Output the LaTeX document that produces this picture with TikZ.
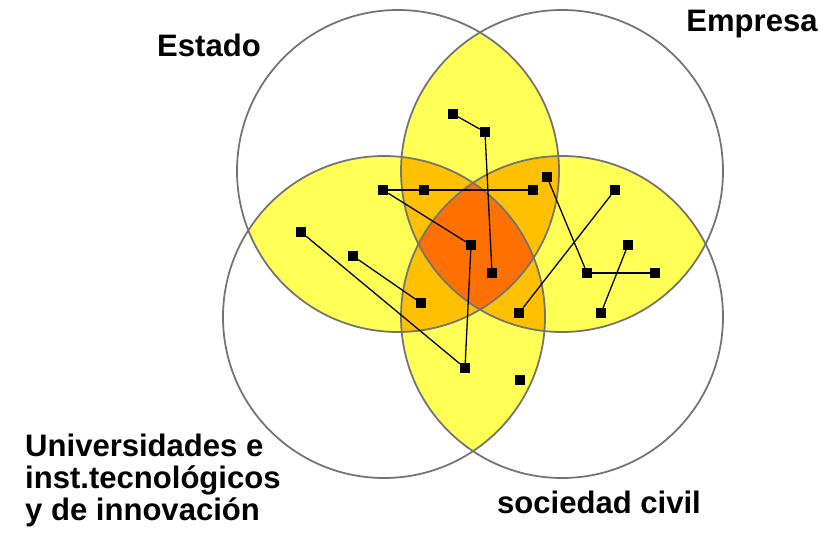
\documentclass[tikz,border=0pt]{standalone}
\usepackage{fontspec}
\setmainfont{Liberation Sans}

\definecolor{pairyellow}{RGB}{255,255,85}
\definecolor{tripleorange}{RGB}{255,192,0}
\definecolor{quadorange}{RGB}{255,112,0}
\definecolor{ringgray}{RGB}{115,115,115}

\begin{document}
\begin{tikzpicture}
  [x=0.03cm,y=-0.03cm,
   ring/.style={draw=ringgray,line width=1.5pt},
   hub/.style={rectangle,fill=black,minimum size=0.3cm,inner sep=0pt},
   link/.style={line width=1.1pt},
   sector/.style={font=\bfseries\fontsize{26.5}{27.3}\selectfont,inner sep=0pt}]
  \useasboundingbox (0,0) rectangle (821,538);

  \coordinate (estado)  at (398,171);
  \coordinate (empresa) at (562,171);
  \coordinate (univ)    at (384,317);
  \coordinate (civil)   at (562,317);

  % two sets
  \foreach \a/\b in {estado/empresa, estado/univ, empresa/civil, univ/civil, estado/civil, empresa/univ}
  {
    \begin{scope}
      \clip (\a) circle [radius=161];
      \fill [pairyellow] (\b) circle [radius=161];
    \end{scope}
  }
  % three sets
  \foreach \a/\b/\c in {estado/empresa/univ, estado/empresa/civil, estado/univ/civil, empresa/univ/civil}
  {
    \begin{scope}
      \clip (\a) circle [radius=161];
      \clip (\b) circle [radius=161];
      \fill [tripleorange] (\c) circle [radius=161];
    \end{scope}
  }
  % all four
  \begin{scope}
    \clip (estado) circle [radius=161];
    \clip (empresa) circle [radius=161];
    \clip (univ) circle [radius=161];
    \fill [quadorange] (civil) circle [radius=161];
  \end{scope}

  \foreach \c in {estado, empresa, univ, civil}
    \draw [ring] (\c) circle [radius=161];

  \node [hub] (n1)  at (453,114) {};
  \node [hub] (n2)  at (485,132) {};
  \node [hub] (n3)  at (383,190) {};
  \node [hub] (n4)  at (424,190) {};
  \node [hub] (n5)  at (533,190) {};
  \node [hub] (n6)  at (547,177) {};
  \node [hub] (n7)  at (615,190) {};
  \node [hub] (n8)  at (301,232) {};
  \node [hub] (n9)  at (471,245) {};
  \node [hub] (n10) at (628,245) {};
  \node [hub] (n11) at (353,256) {};
  \node [hub] (n12) at (492,273) {};
  \node [hub] (n13) at (587,273) {};
  \node [hub] (n14) at (655,273) {};
  \node [hub] (n15) at (421,303) {};
  \node [hub] (n16) at (519,313) {};
  \node [hub] (n17) at (601,313) {};
  \node [hub] (n18) at (465,368) {};
  \node [hub] (n19) at (520,380) {};

  \foreach \from/\to in {n1/n2, n2/n12, n3/n4, n4/n5, n3/n9, n9/n18, n8/n18,
                         n11/n15, n6/n13, n13/n14, n7/n16, n10/n17}
    \draw [link] (\from) -- (\to);

  \node [sector,anchor=base] (lestado) at (209,57) {Estado};
  \node [sector,anchor=base] (lempresa) at (752,32) {Empresa};
  \node [sector,anchor=base west,align=left] (luniv) at (25,520)
    {Universidades e\\inst.tecnológicos\\y de innovación};
  \node [sector,anchor=base] (lcivil) at (599,513) {sociedad civil};

\end{tikzpicture}
\end{document}
